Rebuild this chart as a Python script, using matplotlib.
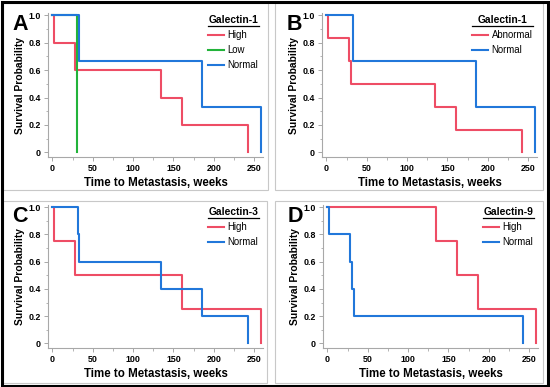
import matplotlib
matplotlib.use('Agg')
import matplotlib.pyplot as plt
from matplotlib.patches import Rectangle
from matplotlib.lines import Line2D
from matplotlib.ticker import MultipleLocator

plt.rcParams['font.family'] = ['Liberation Sans', 'DejaVu Sans']

# ==========================================
# DATA (Kaplan-Meier steps: time of drop, survival after it)
# ==========================================
RED = '#EE4D65'
GREEN = '#22B33A'
BLUE = '#2177DA'

a_high_t = [0, 2, 28, 135, 160, 243]
a_high_s = [1.0, 0.8, 0.6, 0.4, 0.2, 0.0]
a_low_t = [0, 31]
a_low_s = [1.0, 0.0]
a_norm_t = [0, 33, 186, 258]
a_norm_s = [1.0, 0.667, 0.333, 0.0]

b_abn_t = [0, 2, 28, 31, 135, 160, 243]
b_abn_s = [1.0, 0.833, 0.667, 0.5, 0.333, 0.167, 0.0]
b_norm_t = [0, 33, 186, 258]
b_norm_s = [1.0, 0.667, 0.333, 0.0]

c_high_t = [0, 2, 28, 160, 258]
c_high_s = [1.0, 0.75, 0.5, 0.25, 0.0]
c_norm_t = [0, 32, 33, 135, 186, 243]
c_norm_s = [1.0, 0.8, 0.6, 0.4, 0.2, 0.0]

d_high_t = [0, 135, 160, 187, 258]
d_high_s = [1.0, 0.75, 0.5, 0.25, 0.0]
d_norm_t = [0, 2, 28, 31, 33, 243]
d_norm_s = [1.0, 0.8, 0.6, 0.4, 0.2, 0.0]

panels = [
    ('A', 'Galectin-1', [('High', a_high_t, a_high_s, RED),
                         ('Low', a_low_t, a_low_s, GREEN),
                         ('Normal', a_norm_t, a_norm_s, BLUE)]),
    ('B', 'Galectin-1', [('Abnormal', b_abn_t, b_abn_s, RED),
                         ('Normal', b_norm_t, b_norm_s, BLUE)]),
    ('C', 'Galectin-3', [('High', c_high_t, c_high_s, RED),
                         ('Normal', c_norm_t, c_norm_s, BLUE)]),
    ('D', 'Galectin-9', [('High', d_high_t, d_high_s, RED),
                         ('Normal', d_norm_t, d_norm_s, BLUE)]),
]

# ==========================================
# LAYOUT (pixels)
# ==========================================
W, H = 550, 387
fig = plt.figure(figsize=(W / 100, H / 100), dpi=100)

def px_rect(x0, y0, x1, y1):
    return [x0 / W, 1 - y1 / H, (x1 - x0) / W, (y1 - y0) / H]

axes_px = [(48, 13, 263, 157), (322, 13, 537, 157),
           (48, 205, 263, 348), (323, 205, 538, 348)]
frames_px = [(3, 3, 268, 190), (275, 3, 543, 190),
             (3, 201, 267, 383), (275, 201, 543, 383)]

for (x0, y0, x1, y1) in frames_px:
    fig.add_artist(Rectangle((x0 / W, 1 - y1 / H), (x1 - x0) / W, (y1 - y0) / H,
                             transform=fig.transFigure, fill=False,
                             edgecolor='#C8C8C8', lw=0.8))
fig.add_artist(Rectangle((1.5 / W, 1.5 / H), (W - 3.5) / W, (H - 3.5) / H,
                         transform=fig.transFigure, fill=False,
                         edgecolor='black', lw=2.2))

legends = []
for (letter, title, series), box in zip(panels, axes_px):
    ax = fig.add_axes(px_rect(*box))
    for label, t, s, c in series:
        ax.step(t, s, where='post', color=c, lw=1.5, label=label)

    ax.set_xlim(-5.5, 261)
    ax.set_ylim(-0.033, 1.015)
    ax.xaxis.set_major_locator(MultipleLocator(50))
    ax.xaxis.set_minor_locator(MultipleLocator(25))
    ax.set_yticks([0, 0.2, 0.4, 0.6, 0.8, 1.0])
    ax.set_yticklabels(['0', '0.2', '0.4', '0.6', '0.8', '1.0'])
    ax.yaxis.set_minor_locator(MultipleLocator(0.1))
    for sp in ['top', 'right']:
        ax.spines[sp].set_visible(False)
    for sp in ['left', 'bottom']:
        ax.spines[sp].set_color('#A8A8A8')
        ax.spines[sp].set_linewidth(0.8)
    ax.tick_params(which='major', direction='out', length=3, width=0.7,
                   color='#A8A8A8', labelsize=6.4, pad=2)
    ax.tick_params(which='minor', direction='out', length=1.8, width=0.6,
                   color='#A8A8A8')
    for lb in ax.get_xticklabels() + ax.get_yticklabels():
        lb.set_fontweight('bold')

    ax.set_xlabel('Time to Metastasis, weeks', fontsize=8.3, fontweight='bold', labelpad=3)
    ax.set_ylabel('Survival Probability', fontsize=7.4, fontweight='bold', labelpad=2.5)
    ax.text(-0.165, 0.99, letter, transform=ax.transAxes, fontsize=15.5,
            fontweight='bold', ha='left', va='top')

    leg = ax.legend(loc='upper right', bbox_to_anchor=(1.01, 1.035), frameon=False,
                    title=title, fontsize=6.9, handlelength=1.7,
                    handletextpad=0.35, labelspacing=0.55, borderpad=0.2,
                    title_fontproperties={'weight': 'bold', 'size': 7.4})
    legends.append(leg)

# underline under each legend title
fig.canvas.draw()
renderer = fig.canvas.get_renderer()
inv = fig.transFigure.inverted()
for leg in legends:
    tb = leg.get_title().get_window_extent(renderer)
    xs0 = [h.get_window_extent(renderer).x0 for h in leg.legend_handles]
    xs1 = [t.get_window_extent(renderer).x1 for t in leg.get_texts()]
    left = min(min(xs0), tb.x0)
    right = max(max(xs1), tb.x1) + 1
    y = tb.y0 - 1.5
    (fx0, fy), (fx1, _) = inv.transform([(left, y), (right, y)])
    fig.add_artist(Line2D([fx0, fx1], [fy, fy], transform=fig.transFigure,
                          color='black', lw=0.9))

fig.savefig('out.png', dpi=100)
